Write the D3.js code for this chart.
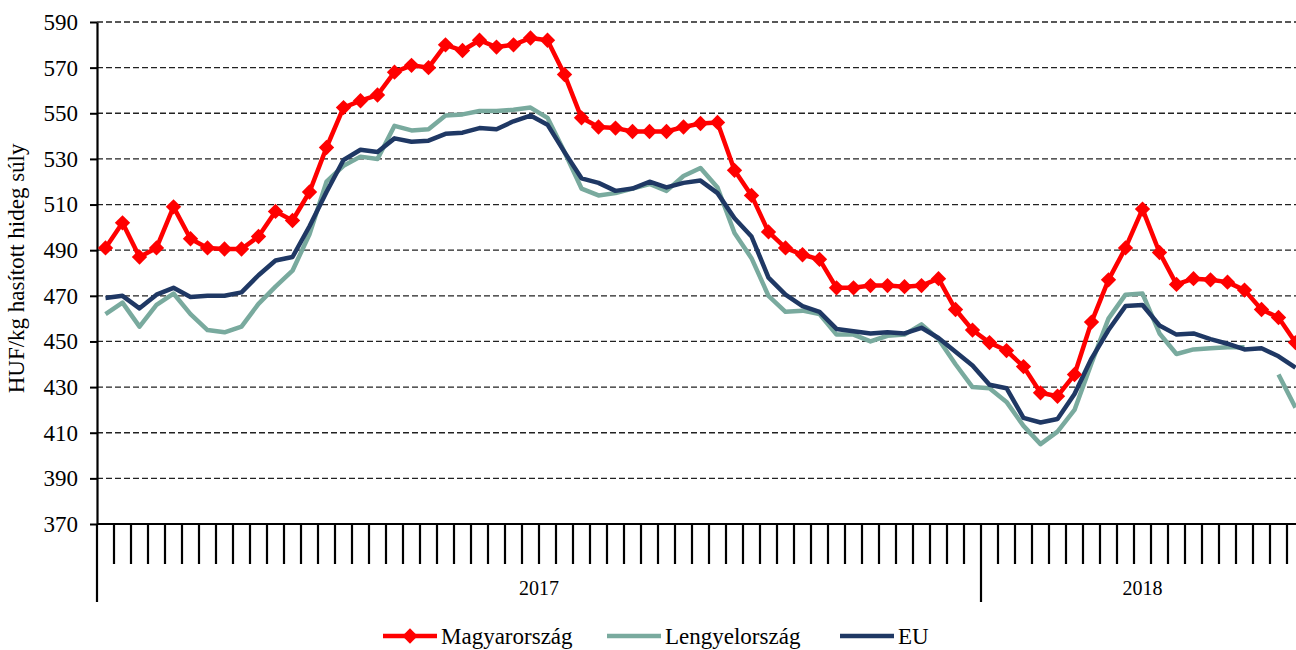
<!DOCTYPE html>
<html>
<head>
<meta charset="utf-8">
<script src="https://cdn.jsdelivr.net/npm/d3@7.9.0/dist/d3.min.js"></script>
<style>
  body { margin: 0; background: #fff; }
  svg { display: block; font-family: "Liberation Serif", "Times New Roman", serif; }
</style>
</head>
<body>
<div id="chart"></div>
<script>
// years on the x axis and how many weeks each one has in the chart
const yearLabels = ["2017", "2018"];
const weeksPerYear = [52, 19];

const yTicks = [370, 390, 410, 430, 450, 470, 490, 510, 530, 550, 570, 590];

const seriesNames = ["Magyarország", "Lengyelország", "EU"];

// HUF/kg, weekly
const hu = [491, 502, 487, 491, 509, 495, 491, 490.5, 490.5, 496,
  507, 503, 515.5, 535, 552.5, 555.5, 558, 568, 571, 570,
  580, 577.5, 582, 579, 580, 583, 582, 567, 548, 544,
  543.5, 542, 542, 542, 544, 545.5, 546, 525, 514, 498,
  491, 488, 486, 473.5, 473.5, 474.5, 474.5, 474, 474.5, 477.5,
  464, 455, 449.5, 446, 439, 427.5, 426, 435.5, 458.5, 477,
  491, 508, 489, 475, 477.5, 477, 476, 472.5, 464, 460.5, 449.5];

const pl = [462, 467, 456.5, 466, 471, 462, 455, 454, 456.5, 466.5,
  474, 481, 497, 520, 527, 531, 530, 544.5, 542.5, 543,
  549, 549.5, 551, 551, 551.5, 552.5, 548, 533, 517, 514,
  515, 517, 519, 516, 522.5, 526, 517.5, 497.5, 486.5, 470,
  463, 463.5, 462, 453, 453, 450, 452.5, 453, 457.5, 451,
  440, 430, 429.5, 423.5, 413, 405, 410.5, 420, 440.5, 460,
  470.5, 471, 453.5, 444.5, 446.5, 447, 447.5, 447.5, null, 435.5, 421];

const eu = [469, 470, 464.5, 470.5, 473.5, 469.5, 470, 470, 471.5, 479,
  485.5, 487, 500.5, 515.5, 529.5, 534, 533, 539, 537.5, 538,
  541, 541.5, 543.5, 543, 546.5, 549, 545, 533, 521.5, 519.5,
  516, 517, 520, 517.5, 519.5, 520.5, 515, 504, 496, 478,
  470.5, 465.5, 463, 455.5, 454.5, 453.5, 454, 453.5, 456, 451.5,
  445.5, 439.5, 431, 429.5, 416.5, 414.5, 416, 427, 442.5, 455,
  465.5, 466, 457, 453, 453.5, 451, 449, 446.5, 447, 443.5, 438.5];

const colors = ["#ff0000", "#79aa9e", "#1f3864"];

const width = 1296, height = 650;
const margin = {top: 22, left: 97, bottom: 126};
const bandW = 17;

// one category per week: "2017-1" ... "2018-19"
const weeks = [];
yearLabels.forEach((yr, k) => {
  d3.range(1, weeksPerYear[k] + 1).forEach(w => weeks.push(yr + "-" + w));
});

const svg = d3.select("#chart").append("svg")
    .attr("width", width)
    .attr("height", height);

const x = d3.scaleBand()
    .domain(weeks)
    .range([margin.left, margin.left + weeks.length * bandW]);

const y = d3.scaleLinear()
    .domain([370, 590])
    .range([height - margin.bottom, margin.top]);

const y0 = y(370);

// dashed grid lines
svg.append("g")
  .selectAll("line")
  .data(yTicks.slice(1))
  .join("line")
    .attr("x1", margin.left)
    .attr("x2", width)
    .attr("y1", d => y(d))
    .attr("y2", d => y(d))
    .attr("stroke", "#222")
    .attr("stroke-width", 1.3)
    .attr("stroke-dasharray", "6,3");

// y axis
const yAxis = svg.append("g")
    .attr("transform", `translate(${margin.left},0)`)
    .call(d3.axisLeft(y).tickValues(yTicks).tickSize(7).tickPadding(12).tickSizeOuter(0));
yAxis.select(".domain").attr("stroke", "#000").attr("stroke-width", 2.2);
yAxis.selectAll(".tick line").attr("stroke", "#000").attr("stroke-width", 2);
yAxis.selectAll("text")
    .style("font-family", "Liberation Serif, Times New Roman, serif")
    .style("font-size", "23px")
    .attr("fill", "#000");

svg.append("text")
    .attr("transform", `translate(24, ${y(482)}) rotate(-90)`)
    .attr("text-anchor", "middle")
    .style("font-size", "23px")
    .text("HUF/kg hasított hideg súly");

// x axis: a tick at every week boundary, long ticks at year boundaries
const xAxis = svg.append("g");
xAxis.append("line")
    .attr("x1", margin.left).attr("x2", width)
    .attr("y1", y0).attr("y2", y0)
    .attr("stroke", "#000").attr("stroke-width", 2.2);

let start = 0;
const yearStarts = weeksPerYear.map(n => { const s = start; start += n; return s; });

xAxis.selectAll(".wtick")
  .data(weeks)
  .join("line")
    .attr("class", "wtick")
    .attr("x1", d => x(d))
    .attr("x2", d => x(d))
    .attr("y1", y0)
    .attr("y2", (d, i) => yearStarts.includes(i) ? y0 + 78 : y0 + 40)
    .attr("stroke", "#000")
    .attr("stroke-width", 2.2);

xAxis.selectAll(".ylab")
  .data(yearLabels)
  .join("text")
    .attr("class", "ylab")
    .attr("x", (d, k) => {
      const a = x(weeks[yearStarts[k]]);
      const b = x(weeks[yearStarts[k] + weeksPerYear[k] - 1]) + x.bandwidth();
      return (a + b) / 2;
    })
    .attr("y", y0 + 71)
    .attr("text-anchor", "middle")
    .style("font-size", "20px")
    .text(d => d);

// lines
const cx = i => x(weeks[i]) + x.bandwidth() / 2;
const line = d3.line()
    .defined(d => d != null)
    .x((d, i) => cx(i))
    .y(d => y(d));

const allSeries = [hu, pl, eu];
[pl, eu, hu].forEach(s => {
  const k = allSeries.indexOf(s);
  svg.append("path")
      .datum(s)
      .attr("fill", "none")
      .attr("stroke", colors[k])
      .attr("stroke-width", 4.5)
      .attr("stroke-linejoin", "round")
      .attr("d", line);
});

const diamond = d3.symbol().type(d3.symbolDiamond2).size(150);
svg.append("g")
  .selectAll("path")
  .data(hu)
  .join("path")
    .attr("transform", (d, i) => `translate(${cx(i)},${y(d)})`)
    .attr("d", diamond)
    .attr("fill", colors[0]);

// legend
const legendX = [383, 607, 840];
const lg = svg.append("g").attr("transform", "translate(0,636)");
seriesNames.forEach((name, k) => {
  const g = lg.append("g").attr("transform", `translate(${legendX[k]},0)`);
  g.append("line")
      .attr("x1", 0).attr("x2", 54)
      .attr("stroke", colors[k]).attr("stroke-width", 4.5);
  if (k === 0) {
    g.append("path").attr("d", diamond).attr("transform", "translate(27,0)").attr("fill", colors[0]);
  }
  g.append("text")
      .attr("x", 58)
      .attr("dy", "0.35em")
      .style("font-size", "23px")
      .text(name);
});
</script>
</body>
</html>
